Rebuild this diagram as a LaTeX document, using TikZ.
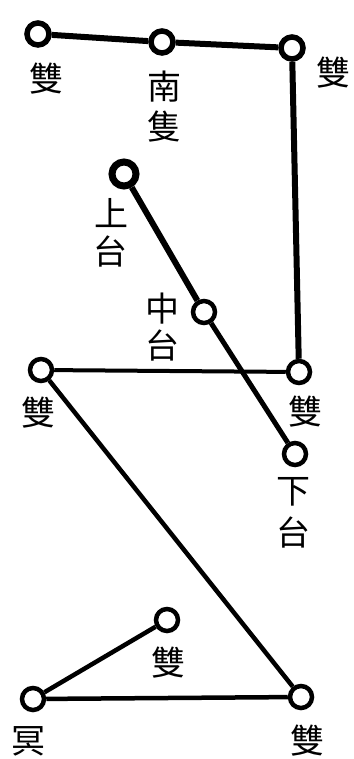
\documentclass[tikz,border=0pt]{standalone}
\usepackage{fontspec}
\newfontfamily\cjk{Noto Sans CJK SC}
\tikzset{
  star/.style={circle,draw,fill=white,line width=4.5pt,minimum size=22pt,inner sep=0pt},
  bigstar/.style={star,line width=7pt,minimum size=24pt},
  lbl/.style={font=\cjk\fontsize{34}{34}\selectfont,inner sep=0pt},
  link/.style={line width=4.5pt},
  heavy/.style={line width=6pt}
}
\begin{document}
\begin{tikzpicture}[x=1pt,y=-1pt]
\useasboundingbox (0,0) rectangle (353,759);
% stars
\node[star,line width=5.5pt] (a) at (38,34) {};
\node[star,line width=5.5pt] (b) at (162,42) {};
\node[star,line width=5.5pt] (c) at (292,48) {};
\node[bigstar] (d) at (124,174) {};
\node[star] (e) at (204,312) {};
\node[star] (f) at (41,370) {};
\node[star] (g) at (299,372) {};
\node[star] (h) at (295,454) {};
\node[star] (i) at (167,620) {};
\node[star] (j) at (33,699) {};
\node[star] (k) at (301,697) {};
% connectors
\draw[heavy] (a) -- (b);
\draw[heavy] (b) -- (c);
\draw[heavy] (c) -- (g);
\draw[heavy] (d) -- (e);
\draw[link,line width=5pt] (e) -- (h);
\draw[link,line width=4pt] (f) -- (g);
\draw[link] (f) -- (k);
\draw[link] (j) -- (i);
\draw[link] (j) -- (k);
% labels
\node[lbl] (la) at (46,79) {雙};
\node[lbl] (lb1) at (164,87) {南};
\node[lbl] (lb2) at (164,127) {隻};
\node[lbl] (lc) at (333,73) {雙};
\node[lbl] (ld1) at (111,213) {上};
\node[lbl] (ld2) at (110,251) {台};
\node[lbl] (le1) at (162,309) {中};
\node[lbl] (le2) at (162,345) {台};
\node[lbl] (lf) at (38,413) {雙};
\node[lbl] (lg) at (305,412) {雙};
\node[lbl] (lh1) at (293,492) {下};
\node[lbl] (lh2) at (293,532) {台};
\node[lbl] (li) at (168,663) {雙};
\node[lbl] (lj) at (28,741) {冥};
\node[lbl] (lk) at (307,741) {雙};
\end{tikzpicture}
\end{document}
